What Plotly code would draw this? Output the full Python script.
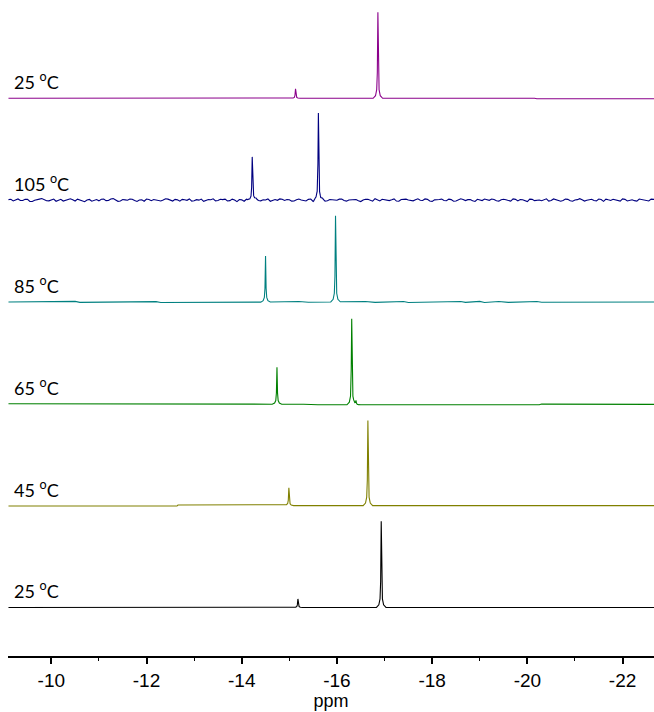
import numpy as np
import plotly.graph_objects as go

# ---------------- data ----------------
labels = ["25 <sup>o</sup>C", "45 <sup>o</sup>C", "65 <sup>o</sup>C",
          "85 <sup>o</sup>C", "105 <sup>o</sup>C", "25 <sup>o</sup>C"]
colors = ["#000000", "#808000", "#008000", "#008080", "#000080", "#8B008B"]

# peak centres (ppm) and heights (arbitrary units), bottom -> top
peak_ppm = [
    [-15.18, -16.93],
    [-14.99, -16.65],
    [-14.74, -16.31, -16.40],
    [-14.50, -15.97],
    [-14.22, -15.61],
    [-15.13, -16.86],
]
peak_int = [
    [8.5, 86],
    [17.5, 85],
    [37, 86, 4],
    [46, 86],
    [43, 87],
    [9.5, 86],
]

# baseline control points (ppm, intensity)
base_ppm = [
    [-9.10, -22.70],
    [-9.10, -12.64, -12.66, -14.90, -15.05, -22.70],
    [-9.10, -11.80, -11.85, -15.30, -15.60, -20.25, -20.30, -22.70],
    [-9.10, -10.5, -10.6, -12.2, -12.3, -13.9, -14.0, -15.2, -15.4, -16.6,
     -16.8, -17.4, -17.5, -18.6, -18.7, -19.0, -19.1, -19.4, -19.6, -20.2, -20.3, -22.70],
    [-9.10, -22.70],
    [-9.10, -20.15, -20.20, -22.70],
]
base_int = [
    [0, 0],
    [-0.4, -0.4, 0.6, 0.6, 0, 0],
    [0, 0, -0.4, -0.4, -1.0, -1.0, -0.3, -0.6],
    [0, 0.6, -0.4, 0.3, -0.5, 0.3, -0.4, 0.4, -0.3, 0.5,
     -0.4, 0.5, -0.5, 0.5, -0.4, 0.6, -0.5, 0.4, -0.4, 0.5, -0.3, 0],
    [0, 0],
    [0, 0, -0.4, -0.4],
]

# noise of the 105 oC trace, every 0.05 ppm from -9.1 ppm (two interleaved lists)
noise_105_a = [0.5, -0.8, 1.2, -0.3, 0.9, -1.4, 0.2, 1.6, -0.6, 0.3, -1.1, 0.8, -0.2, 1.3,
               -0.9, 0.4, -1.5, 0.7, 0.1, -0.7, 1.0, -0.4, 1.5, -1.2, 0.6, -0.1, 0.9, -1.3,
               0.3, 1.1, -0.5, 0.2, -0.9, 1.4, -0.3, 0.8, -1.0, 0.4, 1.2, -0.6, 0.0, -1.2,
               0.7, 1.3, -0.4, 0.5, -0.8, 1.0, -1.5, 0.3, 0.9, -0.2, 1.6, -0.7, 0.1, -1.1,
               0.6, 1.2, -0.3, 0.4, -0.9, 1.1, -0.5, 0.8, -1.3, 0.2, 1.4, -0.6, 0.5, -0.1,
               1.0, -1.0, 0.3, 0.7, -1.4, 0.9, -0.2, 1.5, -0.8, 0.4, -0.5, 1.2, -1.1, 0.6,
               0.1, -0.7, 1.3, -0.3, 0.8, -1.2, 0.2, 1.0, -0.6, 0.5, -0.9, 1.4, -0.4, 0.7,
               -1.3, 0.3, 1.1, -0.2, 0.6, -1.0, 0.9, -0.5, 1.2, -0.8, 0.4, -1.4, 0.8, 0.0,
               -0.6, 1.3, -0.3, 0.5, -1.1, 1.0, -0.7, 0.2, 1.5, -0.9, 0.6, -0.4, 1.1, -1.2,
               0.3, 0.8, -0.1, 1.2, -0.8, 0.4, -1.0, 0.7, -0.3, 1.0]
noise_105_b = [0.9, 0.1, -0.4, 0.8, -1.2, -0.1, 1.0, 0.3, -0.7, 1.1, -0.2, -0.9, 0.5, 0.4,
               1.0, -0.3, 0.2, -1.0, 0.6, 0.9, -0.5, 1.2, 0.1, -0.8, 0.3, 1.1, -0.4, 0.2,
               -1.1, 0.7, 0.6, -0.6, 0.1, 1.0, -0.9, 0.3, 0.8, -0.2, -1.0, 0.5, 1.1, -0.1,
               0.4, -0.7, 0.9, 1.0, -0.5, 0.2, 0.6, -1.1, 0.1, 0.8, -0.3, 0.4, 1.2, -0.6,
               -0.2, 0.9, 0.7, -1.0, 0.3, 0.2, -0.8, 1.1, 0.5, -0.3, -0.9, 0.6, 0.4, 1.0,
               -0.4, 0.2, 1.1, -0.6, 0.1, 0.8, -1.0, 0.5, 0.9, -0.2, 0.3, -0.9, 0.7, 1.0,
               -0.5, 0.4, -0.1, 1.2, -0.8, 0.3, 0.6, -0.3, 1.0, -1.1, 0.2, 0.7, 0.5, -0.6,
               0.9, -0.4, 0.1, 1.1, -0.7, 0.4, 0.3, -1.0, 0.8, 0.6, -0.2, 1.0, -0.5, 0.2,
               0.7, -0.9, 1.2, 0.1, -0.4, 0.8, -1.1, 0.5, 0.3, -0.1, 0.9, -0.7, 0.6, 1.0,
               -0.3, 0.4, -1.0, 0.8, 0.2, -0.5, 1.1, 0.0, -0.8, 0.6]

tick_vals = [-10, -12, -14, -16, -18, -20, -22]
x_range = [-9.09, -22.66]

# ---------------- line shape & stacking (style) ----------------
prof_off = np.array([-0.10, -0.05, -0.025, -0.012, 0, 0.012, 0.025, 0.05, 0.10])
prof_frac = np.array([0, 0.03, 0.10, 0.30, 1, 0.30, 0.10, 0.03, 0])
spacing = 101.7

noise_105 = [v for pair in zip(noise_105_a, noise_105_b) for v in pair]
noise_grid = -9.1 - 0.05 * np.arange(len(noise_105))


def build(i):
    bp = np.array(base_ppm[i], float)
    bi = np.array(base_int[i], float)
    xs = list(bp)
    if i == 4:
        xs += list(noise_grid)
    for c in peak_ppm[i]:
        xs += list(c + prof_off)
    xs = np.array(sorted(set(np.round(xs, 4)), reverse=True))
    ys = np.interp(xs, bp[::-1], bi[::-1])
    if i == 4:
        ys = ys + np.interp(xs, noise_grid[::-1], np.array(noise_105)[::-1])
    for c, h in zip(peak_ppm[i], peak_int[i]):
        ys = ys + h * np.interp(xs, c + prof_off, prof_frac, left=0, right=0)
    return xs, ys


fig = go.Figure()
for i in range(6):
    xs, ys = build(i)
    fig.add_trace(go.Scatter(x=xs, y=ys + i * spacing, mode="lines",
                             line=dict(color=colors[i], width=1.1),
                             hoverinfo="skip", showlegend=False))
    fig.add_annotation(x=0, xref="paper", xshift=4, xanchor="left",
                       y=i * spacing + 17, yref="y", yanchor="middle",
                       text=labels[i], showarrow=False,
                       font=dict(family="Lato, Open Sans, sans-serif", size=18, color="#000"))

fig.update_layout(
    width=654, height=712,
    margin=dict(l=8, r=0, t=0, b=56),
    paper_bgcolor="white", plot_bgcolor="white",
    xaxis=dict(range=x_range, tickvals=tick_vals, ticktext=[str(v) for v in tick_vals],
               showline=True, linecolor="black", linewidth=1.5, showgrid=False,
               zeroline=False, ticks="outside", ticklen=6, tickwidth=1.5, tickcolor="black",
               minor=dict(dtick=1, ticks="outside", ticklen=3, tickwidth=1, tickcolor="black"),
               tickfont=dict(family="Liberation Sans, Arial, sans-serif", size=19, color="#000"),
               title=dict(text="ppm", standoff=4,
                          font=dict(family="Liberation Sans, Arial, sans-serif", size=18, color="#000"))),
    yaxis=dict(range=[-48.5, 606.7], visible=False, showgrid=False, zeroline=False),
)

fig.write_html("out.html")
